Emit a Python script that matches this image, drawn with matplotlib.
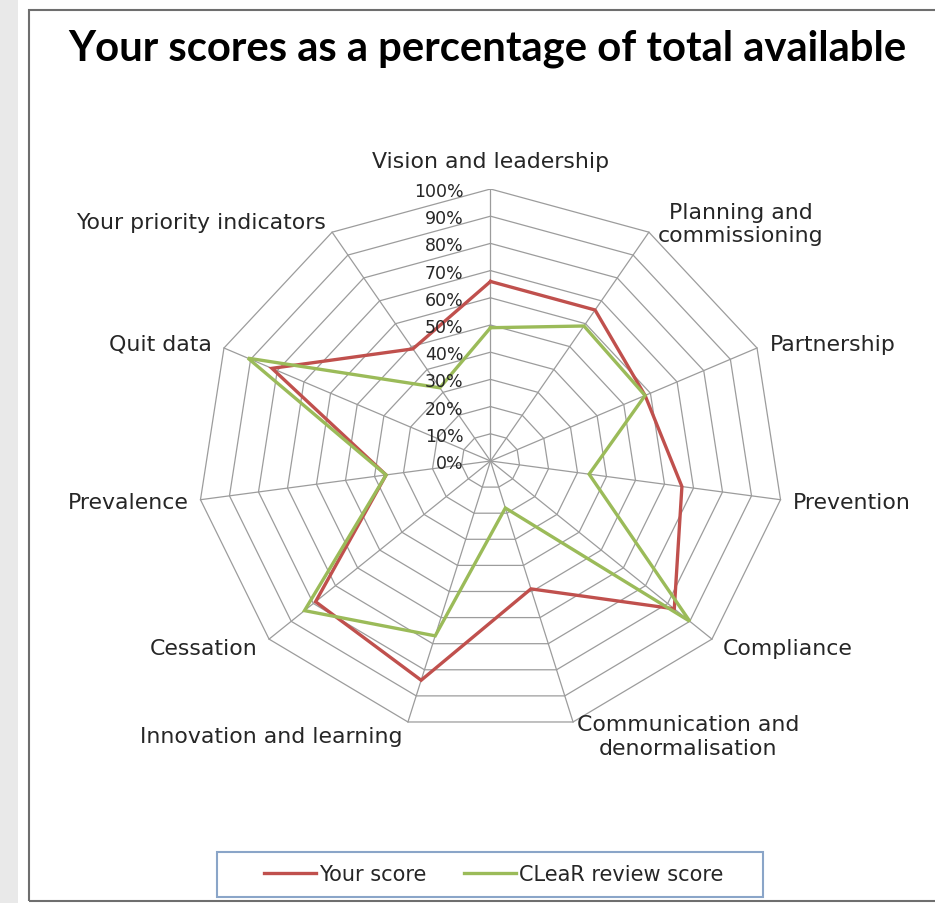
import numpy as np
import matplotlib
matplotlib.use("Agg")
import matplotlib.pyplot as plt
from matplotlib.patches import Rectangle
from matplotlib.lines import Line2D

# data (fraction of total available)
categories = ["Vision and leadership", "Planning and\ncommissioning", "Partnership",
              "Prevention", "Compliance", "Communication and\ndenormalisation",
              "Innovation and learning", "Cessation", "Prevalence", "Quit data",
              "Your priority indicators"]
your_score = [0.66, 0.66, 0.58, 0.66, 0.83, 0.49, 0.84, 0.79, 0.36, 0.82, 0.49]
clear_score = [0.49, 0.59, 0.58, 0.34, 0.90, 0.18, 0.67, 0.84, 0.36, 0.91, 0.32]
tick_levels = [0.0, 0.1, 0.2, 0.3, 0.4, 0.5, 0.6, 0.7, 0.8, 0.9, 1.0]
tick_labels = ["0%", "10%", "20%", "30%", "40%", "50%", "60%", "70%", "80%", "90%", "100%"]
series_names = ["Your score", "CLeaR review score"]
title = "Your scores as a percentage of total available"

W, H = 935, 904
RED = "#c0504d"
GREEN = "#9bbb59"
GRID = "#9c9c9c"
TXT = "#262626"

fig = plt.figure(figsize=(W / 100, H / 100), dpi=100)

# slide background strip and chart frame
fig.patches.append(Rectangle((0, 0), 18 / W, 1, transform=fig.transFigure,
                             facecolor="#e9e9e9", edgecolor="none"))
fig.patches.append(Rectangle((29 / W, (H - 902) / H), (950 - 29) / W, (902 - 11) / H,
                             transform=fig.transFigure, fill=False,
                             edgecolor="#6e6e6e", lw=1.5))

# radar area (excel stretches it a bit horizontally)
cx, cy = 490.5, 462
rx, ry = 293, 272
ax = fig.add_axes([(cx - rx) / W, (H - cy - ry) / H, 2 * rx / W, 2 * ry / H])
ax.set_xlim(-1, 1)
ax.set_ylim(-1, 1)
ax.axis("off")

n = len(categories)
ang = np.arange(n) * 2 * np.pi / n
ux = np.sin(ang)
uy = np.cos(ang)
ux_c = np.append(ux, ux[0])
uy_c = np.append(uy, uy[0])

for lv in tick_levels[1:]:
    ax.plot(ux_c * lv, uy_c * lv, color=GRID, lw=0.9, zorder=1)
for i in range(n):
    ax.plot([0, ux[i]], [0, uy[i]], color=GRID, lw=0.9, zorder=1)

for vals, col in [(your_score, RED), (clear_score, GREEN)]:
    v = np.append(vals, vals[0])
    ax.plot(ux_c * v, uy_c * v, color=col, lw=2.4, zorder=3, solid_joinstyle="miter")

# category labels, placed next to each outer vertex (offsets in pixels, y down)
offs = [(0, -28), (9, -9), (13, -4), (12, 2), (11, 9), (4, 14),
        (-5, 14), (-12, 9), (-12, 2), (-12, -5), (-6, -10)]
for i, lab in enumerate(categories):
    if abs(ux[i]) < 0.05:
        ha = "center"
    elif ux[i] > 0:
        ha = "left"
    else:
        ha = "right"
    ax.annotate(lab, xy=(ux[i], uy[i]), xytext=(offs[i][0], -offs[i][1]),
                textcoords="offset pixels", ha=ha, va="center",
                multialignment="center", fontsize=15.8, color=TXT,
                annotation_clip=False)

# percentage ticks along the top spoke
for lv, lab in zip(tick_levels, tick_labels):
    ax.annotate(lab, xy=(0, lv), xytext=(-27, -2), textcoords="offset pixels",
                ha="right", va="center", fontsize=12.5, color=TXT, zorder=4,
                annotation_clip=False)

# title, sized to span the same width as the original
t = fig.text(487.5 / W, 1 - 61 / H, title, ha="center", va="baseline",
             fontsize=24, fontweight="bold", family="Lato", color="black")
fig.canvas.draw()
bw = t.get_window_extent().width
t.set_fontsize(24 * 843 / bw)

# legend
fig.patches.append(Rectangle((217 / W, (H - 898) / H), 546 / W, 45 / H,
                             transform=fig.transFigure, facecolor="white",
                             edgecolor="#8aa5c8", lw=1.5))
handles = [Line2D([], [], color=RED, lw=2.4), Line2D([], [], color=GREEN, lw=2.4)]
fig.legend(handles, series_names, loc="center", bbox_to_anchor=(494 / W, 1 - 875 / H),
           ncol=2, frameon=False, fontsize=15, handlelength=2.5,
           handletextpad=0.15, columnspacing=1.8, labelcolor=TXT)

fig.savefig("out.png", dpi=100)
